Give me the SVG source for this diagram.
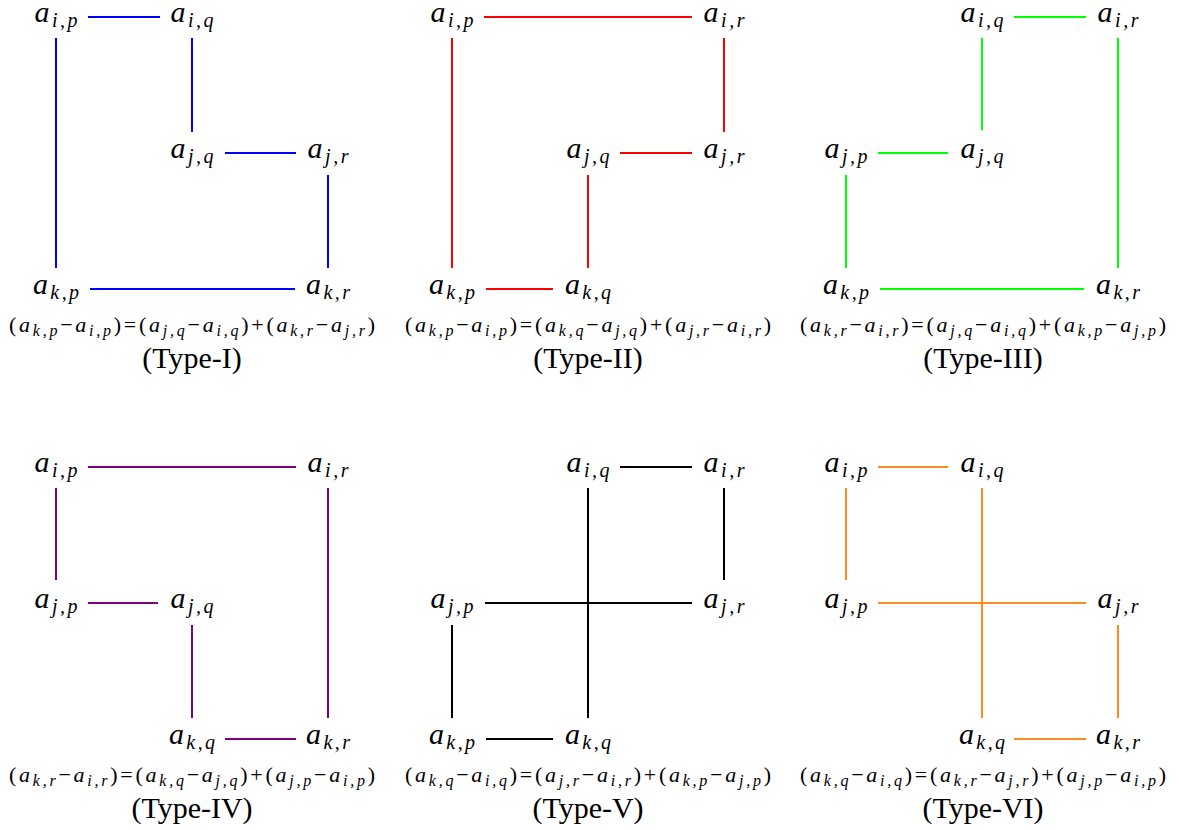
<svg xmlns="http://www.w3.org/2000/svg" width="1179" height="830" viewBox="0 0 1179 830">
<style>
.n{font-family:"Liberation Serif",serif;font-style:italic;font-size:30px;fill:#000;text-anchor:middle}
.s{font-size:20px}
.f{font-family:"Liberation Serif",serif;font-size:22px;fill:#000;text-anchor:middle}
.i{font-style:italic}
.fs{font-style:italic;font-size:16px}
.t{font-family:"Liberation Serif",serif;font-size:30px;fill:#000;text-anchor:middle}
.c line{stroke-width:2;fill:none}
</style>
<rect width="1179" height="830" fill="#fff"/>

<!-- Panel 1 -->
<g id="type1">
<g class="c" id="type1-edges" stroke="#0000ff">
<line x1="88" y1="17" x2="160" y2="17"/>
<line x1="56" y1="38" x2="56" y2="268"/>
<line x1="192" y1="38" x2="192" y2="132"/>
<line x1="225" y1="153" x2="296" y2="153"/>
<line x1="328" y1="175" x2="328" y2="268"/>
<line x1="90" y1="289" x2="295" y2="289"/>
</g>
<g id="t1-aip"><text class="n" x="56" y="22" textLength="43">a<tspan class="s" dy="5">i,p</tspan></text></g>
<g id="t1-aiq"><text class="n" x="192" y="22" textLength="43">a<tspan class="s" dy="5">i,q</tspan></text></g>
<g id="t1-ajq"><text class="n" x="192" y="158" textLength="43">a<tspan class="s" dy="5">j,q</tspan></text></g>
<g id="t1-ajr"><text class="n" x="328" y="158" textLength="41">a<tspan class="s" dy="5">j,r</tspan></text></g>
<g id="t1-akp"><text class="n" x="56" y="294" textLength="46">a<tspan class="s" dy="5">k,p</tspan></text></g>
<g id="t1-akr"><text class="n" x="328" y="294" textLength="44">a<tspan class="s" dy="5">k,r</tspan></text></g>
<text class="f" x="192" y="332" textLength="366" lengthAdjust="spacing">(<tspan class="i">a</tspan><tspan class="fs" dy="4">k,p</tspan><tspan dy="-4">−</tspan><tspan class="i">a</tspan><tspan class="fs" dy="4">i,p</tspan><tspan dy="-4">)=(</tspan><tspan class="i">a</tspan><tspan class="fs" dy="4">j,q</tspan><tspan dy="-4">−</tspan><tspan class="i">a</tspan><tspan class="fs" dy="4">i,q</tspan><tspan dy="-4">)+(</tspan><tspan class="i">a</tspan><tspan class="fs" dy="4">k,r</tspan><tspan dy="-4">−</tspan><tspan class="i">a</tspan><tspan class="fs" dy="4">j,r</tspan><tspan dy="-4">)</tspan></text>
<text class="t" x="192" y="368">(Type-I)</text>
</g>

<!-- Panel 2 -->
<g id="type2">
<g class="c" id="type2-edges" stroke="#ff0000">
<line x1="484" y1="17" x2="692" y2="17"/>
<line x1="452" y1="38" x2="452" y2="268"/>
<line x1="724" y1="38" x2="724" y2="132"/>
<line x1="620" y1="153" x2="692" y2="153"/>
<line x1="588" y1="175" x2="588" y2="268"/>
<line x1="486" y1="289" x2="553" y2="289"/>
</g>
<g id="t2-aip"><text class="n" x="452" y="22" textLength="43">a<tspan class="s" dy="5">i,p</tspan></text></g>
<g id="t2-air"><text class="n" x="724" y="22" textLength="41">a<tspan class="s" dy="5">i,r</tspan></text></g>
<g id="t2-ajq"><text class="n" x="588" y="158" textLength="43">a<tspan class="s" dy="5">j,q</tspan></text></g>
<g id="t2-ajr"><text class="n" x="724" y="158" textLength="41">a<tspan class="s" dy="5">j,r</tspan></text></g>
<g id="t2-akp"><text class="n" x="452" y="294" textLength="46">a<tspan class="s" dy="5">k,p</tspan></text></g>
<g id="t2-akq"><text class="n" x="588" y="294" textLength="46">a<tspan class="s" dy="5">k,q</tspan></text></g>
<text class="f" x="588" y="332" textLength="366" lengthAdjust="spacing">(<tspan class="i">a</tspan><tspan class="fs" dy="4">k,p</tspan><tspan dy="-4">−</tspan><tspan class="i">a</tspan><tspan class="fs" dy="4">i,p</tspan><tspan dy="-4">)=(</tspan><tspan class="i">a</tspan><tspan class="fs" dy="4">k,q</tspan><tspan dy="-4">−</tspan><tspan class="i">a</tspan><tspan class="fs" dy="4">j,q</tspan><tspan dy="-4">)+(</tspan><tspan class="i">a</tspan><tspan class="fs" dy="4">j,r</tspan><tspan dy="-4">−</tspan><tspan class="i">a</tspan><tspan class="fs" dy="4">i,r</tspan><tspan dy="-4">)</tspan></text>
<text class="t" x="588" y="368">(Type-II)</text>
</g>

<!-- Panel 3 -->
<g id="type3">
<g class="c" id="type3-edges" stroke="#00ff00">
<line x1="1014" y1="17" x2="1086" y2="17"/>
<line x1="982" y1="38" x2="982" y2="130"/>
<line x1="878" y1="153" x2="948" y2="153"/>
<line x1="846" y1="175" x2="846" y2="268"/>
<line x1="1118" y1="38" x2="1118" y2="268"/>
<line x1="880" y1="289" x2="1084" y2="289"/>
</g>
<g id="t3-aiq"><text class="n" x="982" y="22" textLength="43">a<tspan class="s" dy="5">i,q</tspan></text></g>
<g id="t3-air"><text class="n" x="1118" y="22" textLength="41">a<tspan class="s" dy="5">i,r</tspan></text></g>
<g id="t3-ajp"><text class="n" x="846" y="158" textLength="43">a<tspan class="s" dy="5">j,p</tspan></text></g>
<g id="t3-ajq"><text class="n" x="982" y="158" textLength="43">a<tspan class="s" dy="5">j,q</tspan></text></g>
<g id="t3-akp"><text class="n" x="846" y="294" textLength="46">a<tspan class="s" dy="5">k,p</tspan></text></g>
<g id="t3-akr"><text class="n" x="1118" y="294" textLength="44">a<tspan class="s" dy="5">k,r</tspan></text></g>
<text class="f" x="983" y="332" textLength="366" lengthAdjust="spacing">(<tspan class="i">a</tspan><tspan class="fs" dy="4">k,r</tspan><tspan dy="-4">−</tspan><tspan class="i">a</tspan><tspan class="fs" dy="4">i,r</tspan><tspan dy="-4">)=(</tspan><tspan class="i">a</tspan><tspan class="fs" dy="4">j,q</tspan><tspan dy="-4">−</tspan><tspan class="i">a</tspan><tspan class="fs" dy="4">i,q</tspan><tspan dy="-4">)+(</tspan><tspan class="i">a</tspan><tspan class="fs" dy="4">k,p</tspan><tspan dy="-4">−</tspan><tspan class="i">a</tspan><tspan class="fs" dy="4">j,p</tspan><tspan dy="-4">)</tspan></text>
<text class="t" x="983" y="368">(Type-III)</text>
</g>

<!-- Panel 4 -->
<g id="type4">
<g class="c" id="type4-edges" stroke="#800080">
<line x1="88" y1="467" x2="296" y2="467"/>
<line x1="56" y1="488" x2="56" y2="580"/>
<line x1="88" y1="603" x2="158" y2="603"/>
<line x1="192" y1="625" x2="192" y2="718"/>
<line x1="328" y1="488" x2="328" y2="718"/>
<line x1="225" y1="739" x2="296" y2="739"/>
</g>
<g id="t4-aip"><text class="n" x="56" y="472" textLength="43">a<tspan class="s" dy="5">i,p</tspan></text></g>
<g id="t4-air"><text class="n" x="328" y="472" textLength="41">a<tspan class="s" dy="5">i,r</tspan></text></g>
<g id="t4-ajp"><text class="n" x="56" y="608" textLength="43">a<tspan class="s" dy="5">j,p</tspan></text></g>
<g id="t4-ajq"><text class="n" x="192" y="608" textLength="43">a<tspan class="s" dy="5">j,q</tspan></text></g>
<g id="t4-akq"><text class="n" x="192" y="744" textLength="46">a<tspan class="s" dy="5">k,q</tspan></text></g>
<g id="t4-akr"><text class="n" x="328" y="744" textLength="44">a<tspan class="s" dy="5">k,r</tspan></text></g>
<text class="f" x="192" y="782" textLength="366" lengthAdjust="spacing">(<tspan class="i">a</tspan><tspan class="fs" dy="4">k,r</tspan><tspan dy="-4">−</tspan><tspan class="i">a</tspan><tspan class="fs" dy="4">i,r</tspan><tspan dy="-4">)=(</tspan><tspan class="i">a</tspan><tspan class="fs" dy="4">k,q</tspan><tspan dy="-4">−</tspan><tspan class="i">a</tspan><tspan class="fs" dy="4">j,q</tspan><tspan dy="-4">)+(</tspan><tspan class="i">a</tspan><tspan class="fs" dy="4">j,p</tspan><tspan dy="-4">−</tspan><tspan class="i">a</tspan><tspan class="fs" dy="4">i,p</tspan><tspan dy="-4">)</tspan></text>
<text class="t" x="192" y="818">(Type-IV)</text>
</g>

<!-- Panel 5 -->
<g id="type5">
<g class="c" id="type5-edges" stroke="#000000">
<line x1="620" y1="467" x2="692" y2="467"/>
<line x1="588" y1="488" x2="588" y2="718"/>
<line x1="724" y1="488" x2="724" y2="580"/>
<line x1="485" y1="603" x2="692" y2="603"/>
<line x1="452" y1="625" x2="452" y2="718"/>
<line x1="486" y1="739" x2="553" y2="739"/>
</g>
<g id="t5-aiq"><text class="n" x="588" y="472" textLength="43">a<tspan class="s" dy="5">i,q</tspan></text></g>
<g id="t5-air"><text class="n" x="724" y="472" textLength="41">a<tspan class="s" dy="5">i,r</tspan></text></g>
<g id="t5-ajp"><text class="n" x="452" y="608" textLength="43">a<tspan class="s" dy="5">j,p</tspan></text></g>
<g id="t5-ajr"><text class="n" x="724" y="608" textLength="41">a<tspan class="s" dy="5">j,r</tspan></text></g>
<g id="t5-akp"><text class="n" x="452" y="744" textLength="46">a<tspan class="s" dy="5">k,p</tspan></text></g>
<g id="t5-akq"><text class="n" x="588" y="744" textLength="46">a<tspan class="s" dy="5">k,q</tspan></text></g>
<text class="f" x="588" y="782" textLength="366" lengthAdjust="spacing">(<tspan class="i">a</tspan><tspan class="fs" dy="4">k,q</tspan><tspan dy="-4">−</tspan><tspan class="i">a</tspan><tspan class="fs" dy="4">i,q</tspan><tspan dy="-4">)=(</tspan><tspan class="i">a</tspan><tspan class="fs" dy="4">j,r</tspan><tspan dy="-4">−</tspan><tspan class="i">a</tspan><tspan class="fs" dy="4">i,r</tspan><tspan dy="-4">)+(</tspan><tspan class="i">a</tspan><tspan class="fs" dy="4">k,p</tspan><tspan dy="-4">−</tspan><tspan class="i">a</tspan><tspan class="fs" dy="4">j,p</tspan><tspan dy="-4">)</tspan></text>
<text class="t" x="588" y="818">(Type-V)</text>
</g>

<!-- Panel 6 -->
<g id="type6">
<g class="c" id="type6-edges" stroke="#ff8c1a">
<line x1="878" y1="467" x2="948" y2="467"/>
<line x1="846" y1="488" x2="846" y2="580"/>
<line x1="982" y1="488" x2="982" y2="718"/>
<line x1="878" y1="603" x2="1086" y2="603"/>
<line x1="1118" y1="625" x2="1118" y2="718"/>
<line x1="1014" y1="739" x2="1086" y2="739"/>
</g>
<g id="t6-aip"><text class="n" x="846" y="472" textLength="43">a<tspan class="s" dy="5">i,p</tspan></text></g>
<g id="t6-aiq"><text class="n" x="982" y="472" textLength="43">a<tspan class="s" dy="5">i,q</tspan></text></g>
<g id="t6-ajp"><text class="n" x="846" y="608" textLength="43">a<tspan class="s" dy="5">j,p</tspan></text></g>
<g id="t6-ajr"><text class="n" x="1118" y="608" textLength="41">a<tspan class="s" dy="5">j,r</tspan></text></g>
<g id="t6-akq"><text class="n" x="982" y="744" textLength="46">a<tspan class="s" dy="5">k,q</tspan></text></g>
<g id="t6-akr"><text class="n" x="1118" y="744" textLength="44">a<tspan class="s" dy="5">k,r</tspan></text></g>
<text class="f" x="983" y="782" textLength="366" lengthAdjust="spacing">(<tspan class="i">a</tspan><tspan class="fs" dy="4">k,q</tspan><tspan dy="-4">−</tspan><tspan class="i">a</tspan><tspan class="fs" dy="4">i,q</tspan><tspan dy="-4">)=(</tspan><tspan class="i">a</tspan><tspan class="fs" dy="4">k,r</tspan><tspan dy="-4">−</tspan><tspan class="i">a</tspan><tspan class="fs" dy="4">j,r</tspan><tspan dy="-4">)+(</tspan><tspan class="i">a</tspan><tspan class="fs" dy="4">j,p</tspan><tspan dy="-4">−</tspan><tspan class="i">a</tspan><tspan class="fs" dy="4">i,p</tspan><tspan dy="-4">)</tspan></text>
<text class="t" x="983" y="818">(Type-VI)</text>
</g>
</svg>
